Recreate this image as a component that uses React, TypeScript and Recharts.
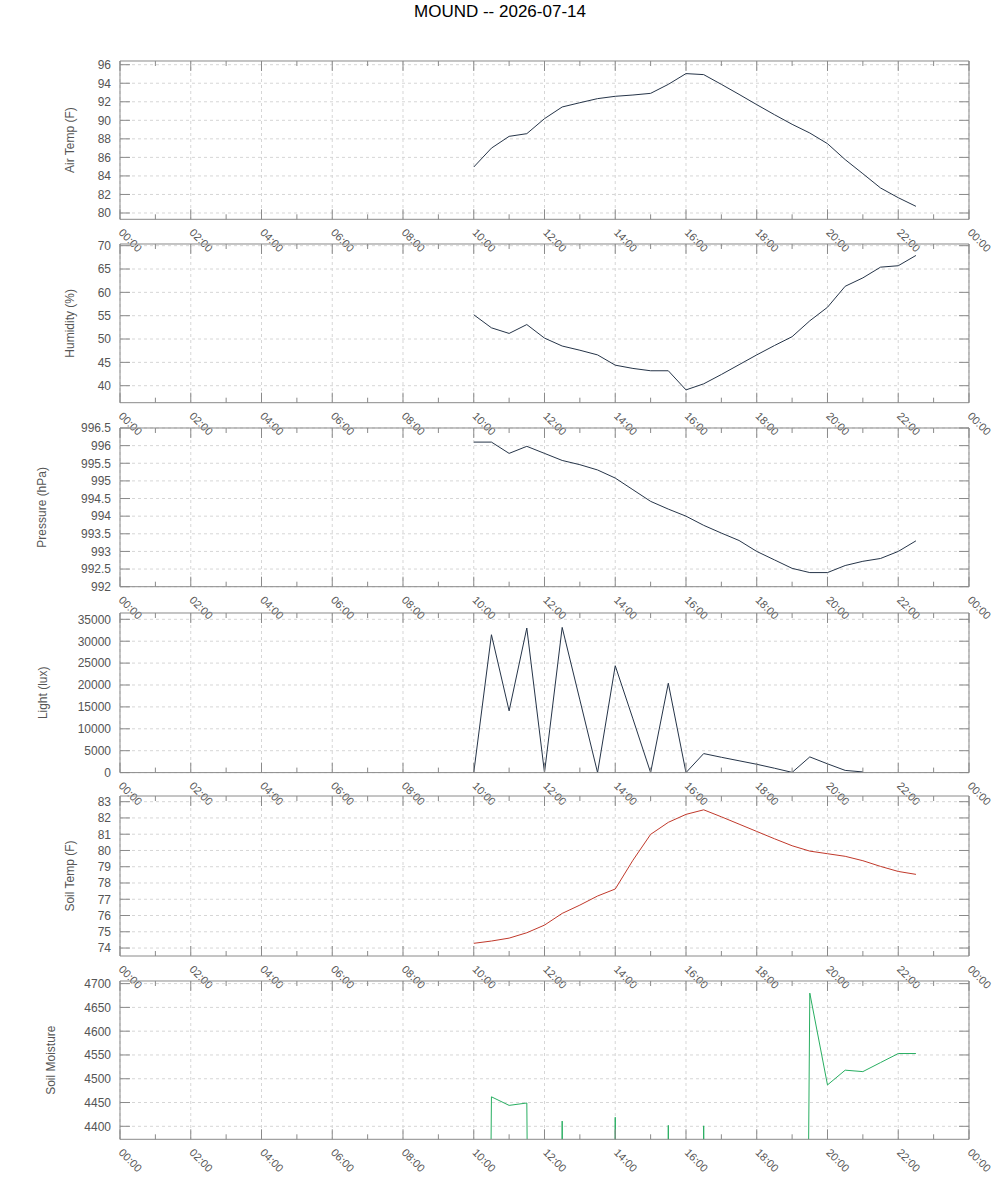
import React from "react"
import { LineChart, Line, XAxis, YAxis, CartesianGrid } from "recharts"

// half-hourly readings, 10:00 .. 22:30 (hours since midnight)
const TIMES = [10, 10.5, 11, 11.5, 12, 12.5, 13, 13.5, 14, 14.5, 15, 15.5, 16, 16.5, 17, 17.5, 18, 18.5, 19, 19.5, 20, 20.5, 21, 21.5, 22, 22.5]

const AIR_TEMP = [84.96, 87.0, 88.27, 88.56, 90.18, 91.44, 91.9, 92.34, 92.59, 92.73, 92.91, 93.88, 95.04, 94.93, 93.88, 92.8, 91.69, 90.61, 89.57, 88.63, 87.48, 85.76, 84.24, 82.7, 81.65, 80.72]
const HUMIDITY = [55.2, 52.4, 51.2, 53.1, 50.2, 48.5, 47.6, 46.6, 44.4, 43.7, 43.2, 43.2, 39.1, 40.4, 42.4, 44.5, 46.6, 48.6, 50.5, 53.9, 56.8, 61.3, 63.1, 65.4, 65.7, 67.9]
const PRESSURE = [996.1, 996.1, 995.78, 995.98, 995.78, 995.58, 995.46, 995.31, 995.08, 994.75, 994.42, 994.2, 994.0, 993.74, 993.52, 993.31, 993.0, 992.76, 992.52, 992.4, 992.4, 992.6, 992.72, 992.8, 993.0, 993.3]
const LIGHT = [0, 31480, 14100, 33000, 0, 33150, 16600, 0, 24400, 12270, 0, 20400, 0, 4340, 3500, 2700, 1900, 1000, 50, 3580, 2000, 500, 150, null, null, null]
const SOIL_TEMP = [74.29, 74.43, 74.61, 74.94, 75.41, 76.13, 76.64, 77.2, 77.63, 79.4, 80.99, 81.73, 82.22, 82.5, 82.07, 81.62, 81.17, 80.72, 80.29, 79.96, 79.8, 79.64, 79.37, 79.02, 78.71, 78.53]
const SOIL_MOISTURE = [0, 4462, 4444, 4449, 0, 4411, 0, 0, 4419, 0, 0, 4402, 0, 4401, 0, 0, 0, 0, 0, 4680, 4487, 4518, 4515, 4534, 4553, 4553]

const HOUR_TICKS = [0, 2, 4, 6, 8, 10, 12, 14, 16, 18, 20, 22, 24]
const MINOR_TICKS = [1, 3, 5, 7, 9, 11, 13, 15, 17, 19, 21, 23]
const HOUR_LABELS = ["00:00", "02:00", "04:00", "06:00", "08:00", "10:00", "12:00", "14:00", "16:00", "18:00", "20:00", "22:00", "00:00"]

const AIR_TEMP_TICKS = [80, 82, 84, 86, 88, 90, 92, 94, 96]
const HUMIDITY_TICKS = [40, 45, 50, 55, 60, 65, 70]
const PRESSURE_TICKS = [992, 992.5, 993, 993.5, 994, 994.5, 995, 995.5, 996, 996.5]
const LIGHT_TICKS = [0, 5000, 10000, 15000, 20000, 25000, 30000, 35000]
const SOIL_TEMP_TICKS = [74, 75, 76, 77, 78, 79, 80, 81, 82, 83]
const SOIL_MOISTURE_TICKS = [4400, 4450, 4500, 4550, 4600, 4650, 4700]

const rows = TIMES.map((t, i) => ({
  t,
  airTemp: AIR_TEMP[i],
  humidity: HUMIDITY[i],
  pressure: PRESSURE[i],
  light: LIGHT[i],
  soilTemp: SOIL_TEMP[i],
  soilMoisture: SOIL_MOISTURE[i],
}))

const FONT = "'Liberation Sans', Arial, sans-serif"
const FRAME = "#8a8a8a"
const TEXT = "#555555"
const GRID = "#d6d6d6"
const NAVY = "#243347"

const PLOT_LEFT = 120
const PLOT_RIGHT = 969
const PAD_TOP = 10
const PAD_BOTTOM = 45

const panels = [
  { key: "airTemp", title: "Air Temp (F)", color: NAVY, domain: [79.32, 96.4], ticks: AIR_TEMP_TICKS, top: 60.7, height: 158.3, titleX: 70 },
  { key: "humidity", title: "Humidity (%)", color: NAVY, domain: [36.36, 70.36], ticks: HUMIDITY_TICKS, top: 244.3, height: 158.7, titleX: 70 },
  { key: "pressure", title: "Pressure (hPa)", color: NAVY, domain: [992, 996.5], ticks: PRESSURE_TICKS, top: 428.3, height: 158.7, titleX: 42 },
  { key: "light", title: "Light (lux)", color: NAVY, domain: [0, 36440], ticks: LIGHT_TICKS, top: 612.7, height: 159.6, titleX: 43 },
  { key: "soilTemp", title: "Soil Temp (F)", color: "#c0392b", domain: [73.51, 83.35], ticks: SOIL_TEMP_TICKS, top: 796, height: 160, titleX: 70 },
  { key: "soilMoisture", title: "Soil Moisture", color: "#27ae60", domain: [4372.7, 4705.5], ticks: SOIL_MOISTURE_TICKS, top: 980.7, height: 158.3, titleX: 51 },
]

function Panel({ p }: { p: (typeof panels)[number] }) {
  const plotTop = PAD_TOP
  const plotBottom = PAD_TOP + p.height

  const majorTick = ({ x, payload }: any) => {
    const label = HOUR_LABELS[HOUR_TICKS.indexOf(payload.value)]
    return (
      <g>
        <line x1={x} x2={x} y1={plotBottom} y2={plotBottom - 10} stroke={FRAME} />
        <line x1={x} x2={x} y1={plotTop} y2={plotTop + 10} stroke={FRAME} />
        <text
          transform={`translate(${x - 2},${plotBottom + 14}) rotate(45)`}
          fontSize={11}
          fontFamily={FONT}
          fill={TEXT}
          textAnchor="start"
        >
          {label}
        </text>
      </g>
    )
  }

  const minorTick = ({ x }: any) => (
    <g>
      <line x1={x} x2={x} y1={plotBottom} y2={plotBottom - 5} stroke={FRAME} />
      <line x1={x} x2={x} y1={plotTop} y2={plotTop + 5} stroke={FRAME} />
    </g>
  )

  const yTick = ({ y, payload }: any) => (
    <g>
      <line x1={PLOT_LEFT} x2={PLOT_LEFT + 10} y1={y} y2={y} stroke={FRAME} />
      <line x1={PLOT_RIGHT - 10} x2={PLOT_RIGHT} y1={y} y2={y} stroke={FRAME} />
      <text x={PLOT_LEFT - 9} y={y} dy="0.36em" textAnchor="end" fontSize={12} fontFamily={FONT} fill={TEXT}>
        {payload.value}
      </text>
    </g>
  )

  const yTitle = () => {
    const cy = plotTop + p.height / 2
    return (
      <text
        x={p.titleX}
        y={cy}
        transform={`rotate(-90 ${p.titleX} ${cy})`}
        textAnchor="middle"
        dy="0.36em"
        fontSize={12}
        fontFamily={FONT}
        fill={TEXT}
      >
        {p.title}
      </text>
    )
  }

  // axes of 1px size: plot area is left 120..969, top PAD_TOP, bottom PAD_TOP+height
  return (
    <div style={{ position: "absolute", left: 0, top: p.top - PAD_TOP }}>
      <LineChart
        width={1000}
        height={PAD_TOP + p.height + PAD_BOTTOM}
        data={rows}
        margin={{ top: PAD_TOP - 1, right: 1000 - PLOT_RIGHT - 1, bottom: PAD_BOTTOM - 2, left: PLOT_LEFT - 1 }}
      >
        <CartesianGrid stroke={GRID} strokeDasharray="3 3" horizontalValues={p.ticks} verticalValues={HOUR_TICKS} />
        <XAxis
          dataKey="t"
          type="number"
          domain={[0, 24]}
          ticks={HOUR_TICKS}
          interval={0}
          height={1}
          tickLine={false}
          axisLine={{ stroke: FRAME }}
          tick={majorTick}
        />
        <XAxis
          xAxisId="minor"
          dataKey="t"
          type="number"
          domain={[0, 24]}
          ticks={MINOR_TICKS}
          interval={0}
          height={1}
          tickLine={false}
          axisLine={false}
          tick={minorTick}
        />
        <XAxis
          xAxisId="top"
          orientation="top"
          dataKey="t"
          type="number"
          domain={[0, 24]}
          ticks={HOUR_TICKS}
          height={1}
          tick={false}
          tickLine={false}
          axisLine={{ stroke: FRAME }}
        />
        <YAxis
          type="number"
          domain={p.domain}
          ticks={p.ticks}
          interval={0}
          allowDataOverflow
          width={1}
          tickLine={false}
          axisLine={{ stroke: FRAME }}
          tick={yTick}
          label={yTitle}
        />
        <YAxis
          yAxisId="r"
          orientation="right"
          type="number"
          domain={p.domain}
          ticks={p.ticks}
          allowDataOverflow
          width={1}
          tick={false}
          tickLine={false}
          axisLine={{ stroke: FRAME }}
        />
        <Line
          type="linear"
          dataKey={p.key}
          stroke={p.color}
          strokeWidth={1}
          dot={false}
          activeDot={false}
          isAnimationActive={false}
        />
      </LineChart>
    </div>
  )
}

export default function App() {
  return (
    <div style={{ position: "absolute", left: 0, top: 0, width: 1000, height: 1200, background: "#fff" }}>
      <div
        style={{
          position: "absolute",
          top: 2,
          left: 0,
          width: 1000,
          textAlign: "center",
          fontFamily: FONT,
          fontSize: 17,
          lineHeight: "20px",
          color: "#000",
        }}
      >
        MOUND -- 2026-07-14
      </div>
      {panels.map((p) => (
        <Panel key={p.key} p={p} />
      ))}
    </div>
  )
}
